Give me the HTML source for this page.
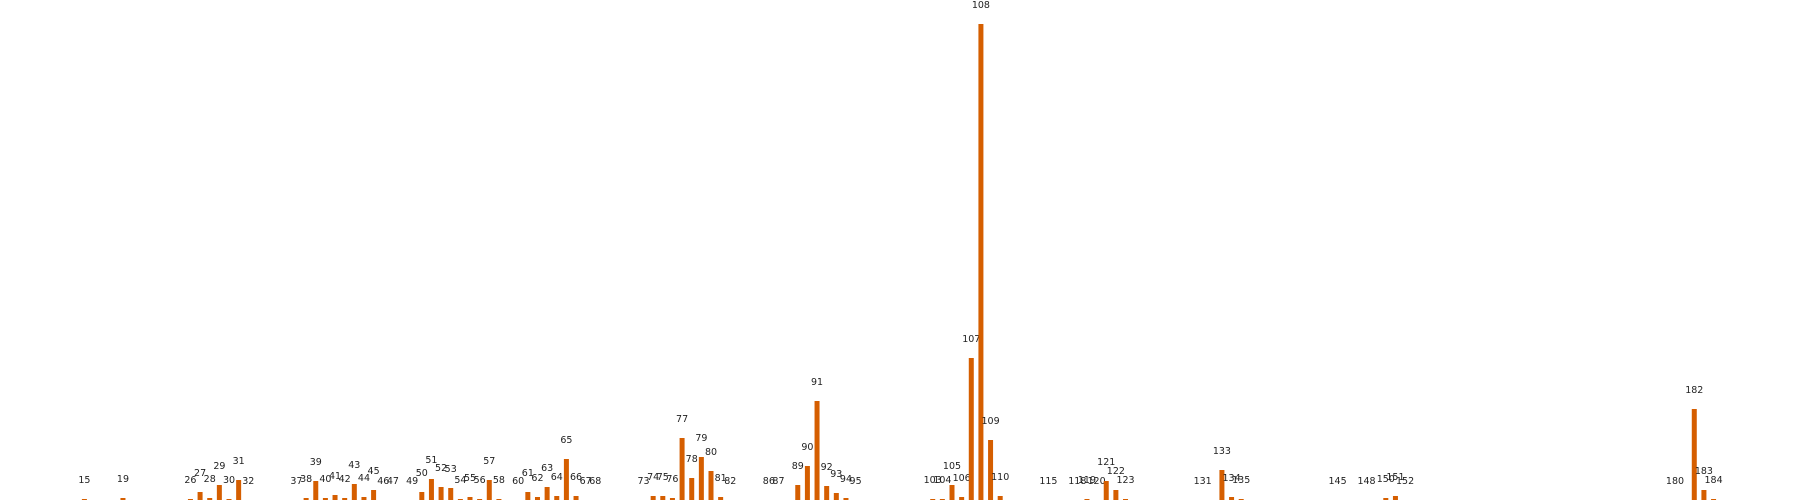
<!DOCTYPE html>
<html><head><meta charset="utf-8"><style>
html,body{margin:0;padding:0;background:#fff;}
svg{display:block;}
text{font-family:"DejaVu Sans","Liberation Sans",sans-serif;font-size:9.5px;fill:#222;}
</style></head><body>
<svg id="chart" width="1800" height="500" viewBox="0 0 1800 500" xmlns="http://www.w3.org/2000/svg"></svg>
<script>
const categories = [15,19,26,27,28,29,30,31,32,37,38,39,40,41,42,43,44,45,46,47,49,50,51,52,53,54,55,56,57,58,60,61,62,63,64,65,66,67,68,73,74,75,76,77,78,79,80,81,82,86,87,89,90,91,92,93,94,95,103,104,105,106,107,108,109,110,115,118,119,120,121,122,123,131,133,134,135,145,148,150,151,152,180,182,183,184];
const values = [1,2,1,8,2,15,1,20,0,0,2,19,2,5,2,16,3,10,0,0,0,8,21,13,12,1,3,1,20,1,0,8,3,13,4,41,4,0,0,0,4,4,2,62,22,43,29,3,0,0,0,15,34,99,14,7,2,0,1,1,15,3,142,476,60,4,0,0,1,0,19,10,1,0,30,3,1,0,0,2,4,0,0,91,10,1];
const yMax = 476;

const svg = document.getElementById('chart');
const NS = 'http://www.w3.org/2000/svg';
function xScale(c){ return 84.4 + (c - 15) * 9.64; }
function yScale(v){ return 500 - v / yMax * 476; }
const barW = 5;

categories.forEach((c, i) => {
  const v = values[i];
  const x = xScale(c);
  const y = yScale(v);
  const r = document.createElementNS(NS, 'rect');
  r.setAttribute('x', x - barW / 2);
  r.setAttribute('y', y);
  r.setAttribute('width', barW);
  r.setAttribute('height', 500 - y);
  r.setAttribute('fill', '#d55e00');
  
  
  svg.appendChild(r);
  const t = document.createElementNS(NS, 'text');
  t.setAttribute('x', x);
  t.setAttribute('y', y - 16);
  t.setAttribute('text-anchor', 'middle');
  t.textContent = String(c);
  
  
  svg.appendChild(t);
});
</script>
</body></html>
